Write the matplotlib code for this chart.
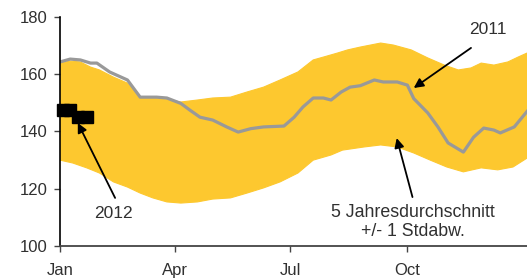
"""
Grafic: preturi 2011 / 2012 vs. media pe 5 ani +/- 1 abatere standard.
"""

import matplotlib
matplotlib.use('Agg')
import matplotlib.pyplot as plt

# Date (x = ziua din an)
BAND_UP_DAYS = [0, 8, 16, 24, 31, 42, 53, 63, 76, 87, 95, 108, 120, 134, 147, 160, 173, 187,
                199, 207, 218, 226, 236, 252, 262, 276, 289, 302, 313, 323, 331, 341, 352, 360, 367]
BAND_UP = [163.9, 164.6, 164.3, 162.5, 161.5, 159.0, 156.9, 152.0, 151.7, 151.0, 150.3, 151.0,
           151.7, 152.0, 153.8, 155.5, 158.0, 160.8, 165.0, 166.0, 167.4, 168.5, 169.5, 170.9,
           170.2, 168.5, 165.7, 163.2, 161.5, 162.2, 163.9, 163.2, 164.3, 166.0, 167.4]

BAND_LO_DAYS = [0, 10, 21, 31, 42, 53, 63, 73, 84, 95, 108, 120, 134, 147, 160, 173, 187, 199,
                213, 222, 239, 252, 265, 278, 291, 304, 317, 331, 344, 356, 367]
BAND_LO = [130.0, 129.0, 127.3, 125.5, 122.4, 120.6, 118.5, 116.8, 115.4, 115.0, 115.4, 116.4,
           116.8, 118.5, 120.3, 122.4, 125.5, 130.0, 131.8, 133.5, 134.6, 135.3, 134.6, 132.5,
           130.0, 127.6, 125.9, 127.3, 126.6, 127.6, 130.7]

Y2011_DAYS = [0, 8, 16, 24, 29, 39, 53, 63, 76, 84, 95, 102, 110, 120, 131, 140, 150, 160, 176,
              184, 191, 199, 207, 213, 221, 228, 236, 247, 254, 265, 273, 278, 289, 297, 305,
              317, 325, 333, 341, 346, 357, 367]
Y2011 = [164.3, 165.3, 165.0, 163.9, 163.9, 160.8, 158.0, 152.0, 152.0, 151.7, 149.8, 147.5,
         145.0, 144.0, 141.6, 139.8, 141.0, 141.6, 141.9, 145.0, 148.6, 151.7, 151.7, 151.0,
         153.8, 155.5, 156.0, 158.0, 157.3, 157.3, 156.2, 151.5, 146.5, 141.6, 136.0, 132.8,
         138.0, 141.2, 140.5, 139.5, 141.6, 147.0]

Y2012_DAYS = [2, 8, 14, 21]
Y2012 = [147.5, 147.5, 145.1, 145.1]

TICK_DAYS = [0, 90, 181, 273]
TICK_LABELS = ['Jan', 'Apr', 'Jul', 'Oct']
Y_TICKS = [100, 120, 140, 160, 180]

# Culori
BAND_COLOR = '#FDC82F'
LINE_COLOR = '#999999'
TEXT_COLOR = '#303030'

plt.rcParams['font.family'] = ['Liberation Sans', 'DejaVu Sans']


def main():
    fig = plt.figure(figsize=(5.27, 2.80), dpi=100)
    ax = fig.add_axes([60 / 527, 34 / 280, 467 / 527, 229 / 280])

    # Banda: media pe 5 ani +/- 1 stdabw (poligon: marginea sus, apoi jos inapoi)
    poly_x = BAND_UP_DAYS + BAND_LO_DAYS[::-1]
    poly_y = BAND_UP + BAND_LO[::-1]
    ax.fill(poly_x, poly_y, color=BAND_COLOR, linewidth=0.8, edgecolor=BAND_COLOR,
            joinstyle='round')

    # Linia 2011
    ax.plot(Y2011_DAYS, Y2011, color=LINE_COLOR, linewidth=2.3, solid_joinstyle='round')

    # 2012: patrate negre
    ax.plot(Y2012_DAYS, Y2012, linestyle='none', marker='s', markersize=8.6,
            color='black', clip_on=False)

    ax.set_xlim(0, 367)
    ax.set_ylim(100, 180)
    ax.set_xticks(TICK_DAYS)
    ax.set_xticklabels(TICK_LABELS)
    ax.set_yticks(Y_TICKS)

    for side in ['top', 'right']:
        ax.spines[side].set_visible(False)
    ax.spines['left'].set_linewidth(1.2)
    ax.spines['left'].set_color('black')
    ax.spines['bottom'].set_linewidth(1.3)
    ax.spines['bottom'].set_color('#444444')

    ax.tick_params(axis='both', labelsize=12, labelcolor=TEXT_COLOR, direction='out',
                   length=4, width=1, color='#444444')
    ax.tick_params(axis='y', pad=5)
    ax.tick_params(axis='x', pad=8)

    # Adnotari
    arrow = dict(arrowstyle='-|>', color='black', lw=1.3, mutation_scale=14,
                 shrinkA=0, shrinkB=0)
    ax.annotate('', xy=(278, 155.2), xytext=(323, 169.2), arrowprops=arrow)
    ax.text(336, 175.8, '2011', fontsize=12.5, color=TEXT_COLOR, ha='center', va='center')

    ax.annotate('', xy=(14, 143), xytext=(43.3, 116.8), arrowprops=arrow)
    ax.text(41.7, 111.5, '2012', fontsize=12.5, color=TEXT_COLOR, ha='center', va='center')

    ax.annotate('', xy=(264.6, 137.7), xytext=(277, 117.1), arrowprops=arrow)
    ax.text(277, 108.4, '5 Jahresdurchschnitt\n+/- 1 Stdabw.', fontsize=12.8,
            color=TEXT_COLOR, ha='center', va='center', linespacing=1.15)

    fig.savefig('out.png', dpi=100)
    plt.close(fig)


if __name__ == "__main__":
    main()
